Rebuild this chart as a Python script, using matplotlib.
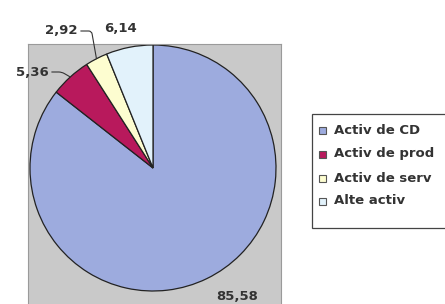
import matplotlib.pyplot as plt
from matplotlib.patches import Rectangle
import numpy as np

labels = ['Activ de CD', 'Activ de prod', 'Activ de serv', 'Alte activ']
values = [85.58, 5.36, 2.92, 6.14]
value_text = ['85,58', '5,36', '2,92', '6,14']
colors = ['#9dabde', '#b8195c', '#fdfdd0', '#e2f2fb']

plt.rcParams['font.family'] = ['DejaVu Sans']

W, H = 445, 304
fig = plt.figure(figsize=(W / 100, H / 100), dpi=100)
fig.patch.set_facecolor('white')

# grey plot area, one data unit == one pixel
ax = fig.add_axes([28 / W, 0, 253 / W, 260 / H])
ax.set_facecolor('#c9c9c9')
ax.set_xticks([])
ax.set_yticks([])
for s in ax.spines.values():
    s.set_edgecolor('#9a9a9a')
    s.set_linewidth(0.8)
ax.spines['bottom'].set_visible(False)

cx, cy, r = 153, H - 168, 123
wedges, _ = ax.pie(values, colors=colors, startangle=90, counterclock=False,
                   center=(cx, cy), radius=r, frame=True,
                   wedgeprops=dict(edgecolor='#222222', linewidth=0.9))
ax.set_xlim(28, 281)
ax.set_ylim(0, 260)
ax.set_aspect('equal')

txt = dict(fontsize=9.5, fontweight='bold', color='#333333', annotation_clip=False)
lp = dict(arrowstyle='-', color='#333333', lw=0.8, shrinkA=0, shrinkB=0)

def edge(w):
    a = np.deg2rad((w.theta1 + w.theta2) / 2)
    return cx + r * np.cos(a), cy + r * np.sin(a)

# 85,58 at the bottom edge
ax.annotate(value_text[0], xy=edge(wedges[0]), xytext=(237, H - 297), ha='center', va='center', **txt)
# 5,36
ax.annotate(value_text[1], xy=edge(wedges[1]), xytext=(49, H - 72), ha='right', va='center',
            arrowprops=dict(connectionstyle='angle,angleA=0,angleB=150,rad=3', **lp), **txt)
# 2,92
ax.annotate(value_text[2], xy=edge(wedges[2]), xytext=(78, H - 31), ha='right', va='center',
            arrowprops=dict(connectionstyle='angle,angleA=0,angleB=100,rad=3', **lp), **txt)
# 6,14
ax.annotate(value_text[3], xy=edge(wedges[3]), xytext=(121, H - 28), ha='center', va='center', **txt)

# legend box, runs past the right edge
fig.add_artist(Rectangle((312 / W, 1 - 228 / H), 140 / W, 114 / H, transform=fig.transFigure,
                         facecolor='white', edgecolor='#444444', linewidth=0.9))
rows = [131, 154, 178, 201]
for lab, col, yy in zip(labels, colors, rows):
    fig.add_artist(Rectangle((319 / W, 1 - (yy + 3.5) / H), 7 / W, 7 / H, transform=fig.transFigure,
                             facecolor=col, edgecolor='#555555', linewidth=0.8))
    fig.text(334 / W, 1 - yy / H, lab, fontsize=9.5, fontweight='bold', color='#333333',
             ha='left', va='center')

fig.savefig('out.png', dpi=100)
